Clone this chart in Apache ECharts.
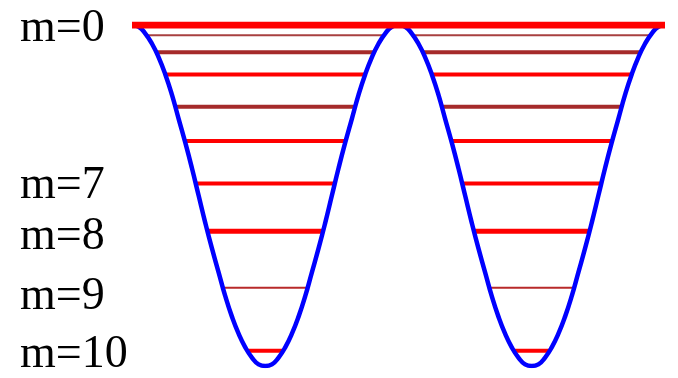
<!DOCTYPE html>
<html>
<head>
<meta charset="utf-8">
<style>
  html, body { margin: 0; padding: 0; background: #ffffff; }
  #chart { width: 678px; height: 378px; }
</style>
<script src="https://cdn.jsdelivr.net/npm/echarts@6/dist/echarts.min.js"></script>
</head>
<body>
<div id="chart"></div>
<script>
// Position across the double well (x, in units: -1 .. 1)
const curveX = [
  -1.000, -0.975, -0.950, -0.925, -0.900, -0.875, -0.850, -0.825, -0.800, -0.775,
  -0.750, -0.725, -0.700, -0.675, -0.650, -0.625, -0.600, -0.575, -0.550, -0.525,
  -0.500, -0.475, -0.450, -0.425, -0.400, -0.375, -0.350, -0.325, -0.300, -0.275,
  -0.250, -0.225, -0.200, -0.175, -0.150, -0.125, -0.100, -0.075, -0.050, -0.025,
   0.000,  0.025,  0.050,  0.075,  0.100,  0.125,  0.150,  0.175,  0.200,  0.225,
   0.250,  0.275,  0.300,  0.325,  0.350,  0.375,  0.400,  0.425,  0.450,  0.475,
   0.500,  0.525,  0.550,  0.575,  0.600,  0.625,  0.650,  0.675,  0.700,  0.725,
   0.750,  0.775,  0.800,  0.825,  0.850,  0.875,  0.900,  0.925,  0.950,  0.975,
   1.000
];
// Potential
const curveV = [
  2.00, 1.99, 1.95, 1.89, 1.81, 1.71, 1.59, 1.45, 1.31, 1.16,
  1.00, 0.84, 0.69, 0.55, 0.41, 0.29, 0.19, 0.11, 0.05, 0.01,
  0.00, 0.01, 0.05, 0.11, 0.19, 0.29, 0.41, 0.55, 0.69, 0.84,
  1.00, 1.16, 1.31, 1.45, 1.59, 1.71, 1.81, 1.89, 1.95, 1.99,
  2.00, 1.99, 1.95, 1.89, 1.81, 1.71, 1.59, 1.45, 1.31, 1.16,
  1.00, 0.84, 0.69, 0.55, 0.41, 0.29, 0.19, 0.11, 0.05, 0.01,
  0.00, 0.01, 0.05, 0.11, 0.19, 0.29, 0.41, 0.55, 0.69, 0.84,
  1.00, 1.16, 1.31, 1.45, 1.59, 1.71, 1.81, 1.89, 1.95, 1.99,
  2.00
];
// Energy levels (red lines), top to bottom
const levelE = [2.00, 1.94, 1.84, 1.71, 1.52, 1.32, 1.07, 0.79, 0.46, 0.09];
const levelInset = [0.000, 0.054, 0.092, 0.124, 0.162, 0.199, 0.239, 0.284, 0.341, 0.433];
// Level labels
const labelNames = ['m=0', 'm=7', 'm=8', 'm=9', 'm=10'];
const labelE = [1.975, 1.055, 0.755, 0.405, 0.065];

// styles (not data)
const levelColors = ['#ff0000', '#a84040', '#a52a2a', '#ff0000', '#a52a2a', '#ff0000', '#ff0000', '#ff0000', '#b82a2a', '#ff0000'];
const levelWidths = [7, 2, 4, 4, 4, 4, 4, 5, 2, 4];

const series = [];
levelE.forEach((e, i) => {
  const a = levelInset[i];
  const style = { color: levelColors[i], width: levelWidths[i] };
  const segs = (a === 0)
    ? [[[-1, e], [1, e]]]
    : [[[-1 + a, e], [-a, e]], [[a, e], [1 - a, e]]];
  segs.forEach(seg => {
    series.push({
      type: 'line', data: seg, symbol: 'none', silent: true,
      lineStyle: style, z: i === 0 ? 5 : 2
    });
  });
});
series.push({
  type: 'line',
  data: curveX.map((x, i) => [x, curveV[i]]),
  symbol: 'none', smooth: true, silent: true,
  lineStyle: { color: '#0000ff', width: 4.5 },
  z: 3
});

const chart = echarts.init(document.getElementById('chart'), null, { renderer: 'canvas' });
chart.setOption({
  animation: false,
  backgroundColor: '#ffffff',
  grid: { left: 132, right: 13, top: 25, bottom: 8, containLabel: false },
  xAxis: { type: 'value', min: -1, max: 1, show: false },
  yAxis: {
    type: 'value', min: 0, max: 2,
    axisLine: { show: false }, axisTick: { show: false }, splitLine: { show: false },
    axisLabel: {
      customValues: labelE,
      align: 'left', margin: 112,
      fontFamily: 'Liberation Serif', fontSize: 46, color: '#000000',
      formatter: (v) => {
        const idx = labelE.findIndex(e => Math.abs(e - v) < 1e-6);
        return idx >= 0 ? labelNames[idx] : '';
      }
    }
  },
  series: series
});
</script>
</body>
</html>
